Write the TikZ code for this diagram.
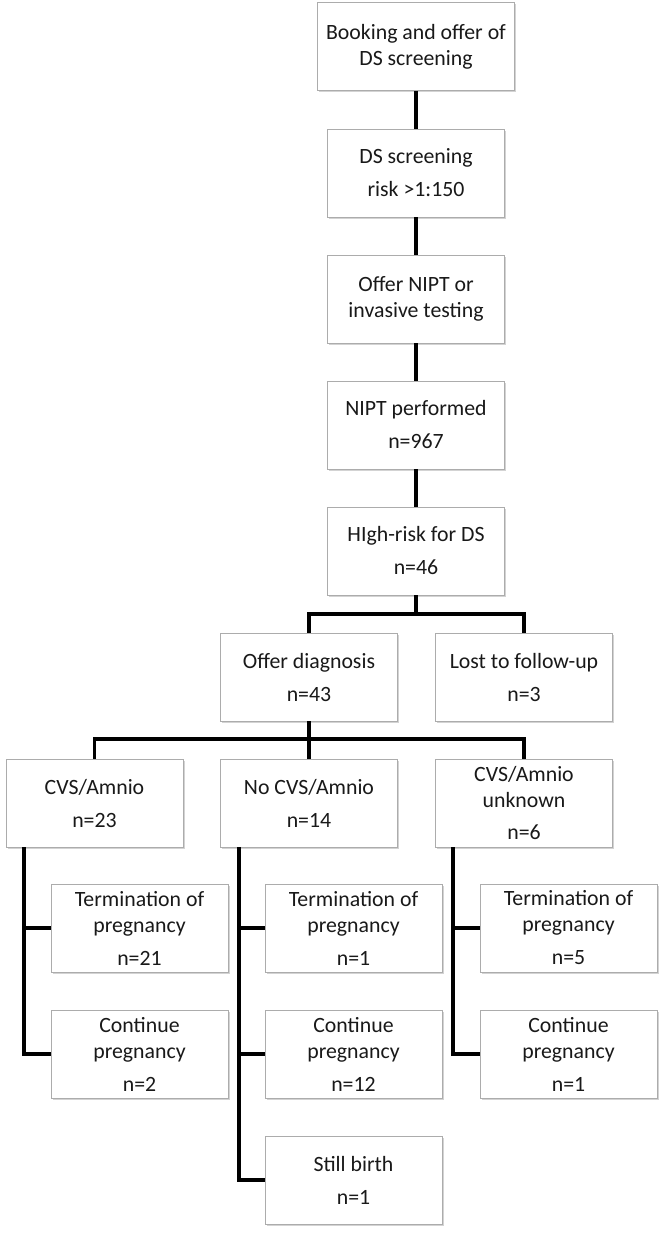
\documentclass[tikz,border=0pt]{standalone}
\usepackage{fontspec}
\setmainfont{Carlito}
\usetikzlibrary{shadows}
\tikzset{
  stagebox/.style={draw=gray!65, fill=white, line width=0.7pt,
    minimum width=177pt, minimum height=88pt, inner sep=2pt,
    align=center, text=black!90,
    font=\fontsize{21.8}{26}\selectfont,
    drop shadow={opacity=0.35, shadow xshift=1.5pt, shadow yshift=-1.5pt}},
  link/.style={line width=3.6pt, black}
}
\begin{document}
\begin{tikzpicture}[x=1pt,y=-1pt]
        \useasboundingbox (0,0) rectangle (664,1235);

        % Main column
        \node[stagebox, minimum width=197pt] (booking) at (416,46.5) {Booking and offer of\\DS screening};
        \node[stagebox] (screen) at (416,173) {DS screening\\[7pt]risk >1:150};
        \node[stagebox] (offernipt) at (416,299) {Offer NIPT or\\invasive testing};
        \node[stagebox] (nipt) at (416,425) {NIPT performed\\[7pt]n=967};
        \node[stagebox] (highrisk) at (416,551) {HIgh-risk for DS\\[7pt]n=46};

        % First split
        \node[stagebox] (offerdiag) at (309,677) {Offer diagnosis\\[7pt]n=43};
        \node[stagebox] (lost) at (524,677) {Lost to follow-up\\[7pt]n=3};

        % Second split
        \node[stagebox] (cvs) at (94.5,803) {CVS/Amnio\\[7pt]n=23};
        \node[stagebox] (nocvs) at (309,803) {No CVS/Amnio\\[7pt]n=14};
        \node[stagebox] (unknown) at (524,803) {CVS/Amnio\\unknown\\[6pt]n=6};

        % Outcomes
        \node[stagebox] (cvstop) at (139.5,928) {Termination of\\pregnancy\\[7pt]n=21};
        \node[stagebox] (cvscont) at (139.5,1054) {Continue\\pregnancy\\[7pt]n=2};
        \node[stagebox] (nocvstop) at (353.5,928) {Termination of\\pregnancy\\[7pt]n=1};
        \node[stagebox] (nocvscont) at (353.5,1054) {Continue\\pregnancy\\[7pt]n=12};
        \node[stagebox] (stillbirth) at (353.5,1180) {Still birth\\[7pt]n=1};
        \node[stagebox] (unktop) at (568.5,928) {Termination of\\pregnancy\\[7pt]n=5};
        \node[stagebox] (unkcont) at (568.5,1054) {Continue\\pregnancy\\[7pt]n=1};

        % Trunk points
        \coordinate (split1) at (416,614);
        \coordinate (split2) at (309,739);
        \coordinate (cvstrunk) at (24,847);
        \coordinate (nocvstrunk) at (239,847);
        \coordinate (unktrunk) at (453,847);

        % Connectors
        \draw[link] (booking) -- (screen);
        \draw[link] (screen) -- (offernipt);
        \draw[link] (offernipt) -- (nipt);
        \draw[link] (nipt) -- (highrisk);
        \draw[link] (highrisk) -- (split1);
        \draw[link] (offerdiag.north) |- (split1) -| (lost.north);
        \draw[link] (offerdiag) -- (split2);
        \draw[link] (cvs.north) |- (split2) -| (unknown.north);
        \draw[link] (split2) -- (nocvs);
        \draw[link] (cvstrunk) |- (cvscont.west);
        \draw[link] (cvstrunk |- cvstop) -- (cvstop.west);
        \draw[link] (nocvstrunk) |- (stillbirth.west);
        \draw[link] (nocvstrunk |- nocvstop) -- (nocvstop.west);
        \draw[link] (nocvstrunk |- nocvscont) -- (nocvscont.west);
        \draw[link] (unktrunk) |- (unkcont.west);
        \draw[link] (unktrunk |- unktop) -- (unktop.west);
\end{tikzpicture}
\end{document}
